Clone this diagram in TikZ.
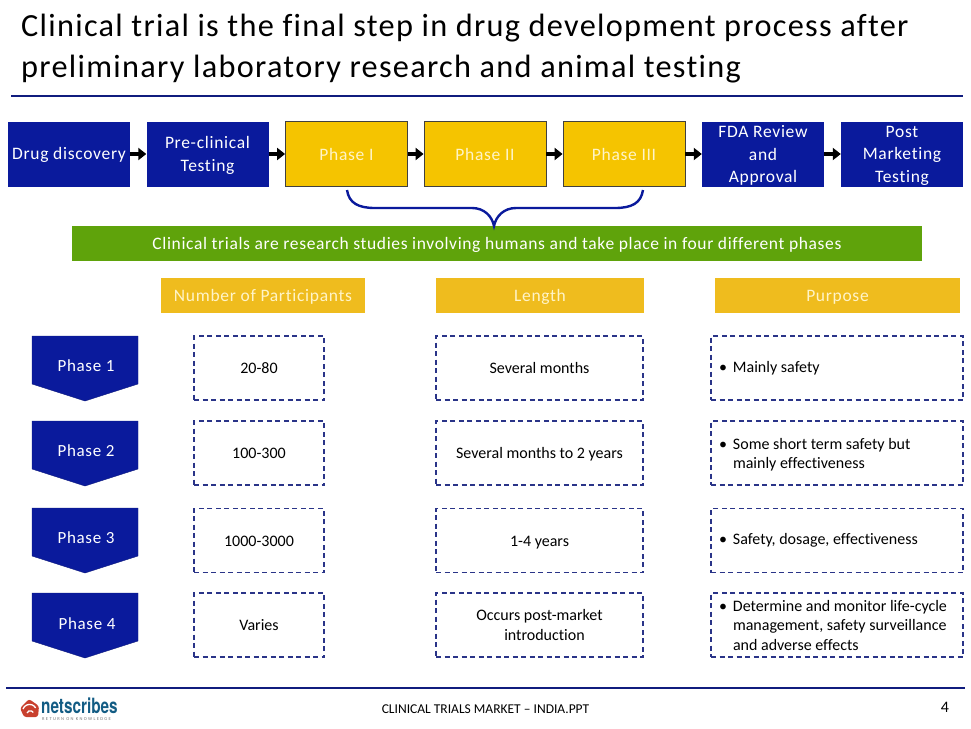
\documentclass[tikz,border=0pt]{standalone}
\usepackage{fontspec}
\setmainfont{Carlito}[Ligatures=NoCommon]
\newfontfamily\spacedfont[LetterSpace=4,Ligatures=NoCommon]{Carlito}
\newfontfamily\barfont[LetterSpace=3.6,Ligatures=NoCommon]{Carlito}
\newfontfamily\tagfont[LetterSpace=30]{Carlito}
\newfontfamily\logofont{TeX Gyre Heros}
\usetikzlibrary{arrows.meta}
\definecolor{navybox}{HTML}{0A1A9C}
\definecolor{navyline}{HTML}{101C7E}
\definecolor{dashnavy}{HTML}{2A3488}
\definecolor{goldbox}{HTML}{F5C400}
\definecolor{goldhead}{HTML}{EFBC1E}
\definecolor{palegold}{HTML}{FFF4C8}
\definecolor{greenbar}{HTML}{5FA30B}
\definecolor{logored}{HTML}{C8402E}
\definecolor{logoblue}{HTML}{135C84}
\tikzset{
  lowered/.style={execute at begin node={\rule{0pt}{#1}}},
  stagebox/.style={fill=navybox,text=white,text width=122,minimum height=65,inner sep=0,align=flush center,
    font=\fontsize{17.5}{22.5}\spacedfont},
  trialbox/.style={stagebox,fill=goldbox,draw=black!75,line width=0.8,text=palegold,lowered=13.5pt},
  headbox/.style={fill=goldhead,text=palegold,minimum height=35,inner sep=0,font=\fontsize{17.5}{20}\spacedfont,lowered=14.5pt},
  dashbox/.style={draw=dashnavy,line width=1.2,dash pattern=on 5 off 3.5,minimum height=64,inner sep=0,align=center,
    font=\fontsize{16}{19.5}\selectfont},
  pointbox/.style={dashbox,align=flush left,text width=236,inner xsep=8},
  phasetag/.style={text=white,inner sep=0,font=\fontsize{17}{20}\spacedfont},
  linkarrow/.style={line width=4,-{Triangle[length=8,width=12]}},
}
\newcommand{\pentagon}[1]{\fill[navybox,draw=navyline] (32,#1) -- (138,#1) -- (138,#1+48) -- (85,#1+65) -- (32,#1+48) -- cycle;}
\newcommand{\itm}{\textbullet\hspace{6pt}}
\newcommand{\hng}{\hspace*{14pt}}
\begin{document}
\begin{tikzpicture}[x=1pt, y=-1pt]
\useasboundingbox (0,0) rectangle (971,728);

\node[anchor=west,align=left,inner sep=0,font=\fontsize{32.3}{41}\spacedfont] (title) at (21,49)
  {Clinical trial is the final step in drug development process after\\preliminary laboratory research and animal testing};
\draw[navyline,line width=1.8] (11,96) -- (963,96);

\node[stagebox,lowered=14.5pt] (drug) at (69,154) {Drug discovery};
\node[stagebox,lowered=15pt] (preclin) at (207.5,154) {Pre-clinical\\Testing};
\node[trialbox] (phaseI) at (346.5,154) {Phase I};
\node[trialbox] (phaseII) at (485,154) {Phase II};
\node[trialbox] (phaseIII) at (624,154) {Phase III};
\node[stagebox,lowered=15pt] (fda) at (763,154) {FDA Review\\and\\Approval};
\node[stagebox,lowered=15pt] (post) at (902,154) {Post\\Marketing\\Testing};

\draw[linkarrow] (drug) -- (preclin);
\draw[linkarrow] (preclin) -- (phaseI);
\draw[linkarrow] (phaseI) -- (phaseII);
\draw[linkarrow] (phaseII) -- (phaseIII);
\draw[linkarrow] (phaseIII) -- (fda);
\draw[linkarrow] (fda) -- (post);

\node[fill=greenbar,text=white,minimum width=850,minimum height=35,inner sep=0,font=\fontsize{17.5}{20}\barfont,lowered=16pt] (clinical) at (497,243.5)
  {Clinical trials are research studies involving humans and take place in four different phases};

\coordinate (braceleft) at (347,190);
\coordinate (bracetip) at (494,226);
\coordinate (braceright) at (643,190);
\draw[navybox,line width=2.4] (braceleft) .. controls (349,203) and (358,208) .. (375,208) -- (472,208)
  .. controls (484,208) and (492,216) .. (bracetip) .. controls (496,216) and (504,208) .. (516,208)
  -- (615,208) .. controls (632,208) and (641,203) .. (braceright);

\node[headbox,minimum width=204] (number) at (263,295.5) {Number of Participants};
\node[headbox,minimum width=208] (length) at (540,295.5) {Length};
\node[headbox,minimum width=245] (purpose) at (837.5,295.5) {Purpose};

\pentagon{336}
\pentagon{421}
\pentagon{508}
\pentagon{593}
\node[phasetag] (phase1) at (86,366) {Phase 1};
\node[phasetag] (phase2) at (86,451) {Phase 2};
\node[phasetag] (phase3) at (86,538) {Phase 3};
\node[phasetag] (phase4) at (87,624) {Phase 4};

\node[dashbox,minimum width=130] (count1) at (259,368) {20-80};
\node[dashbox,minimum width=130] (count2) at (259,453) {100-300};
\node[dashbox,minimum width=130,lowered=13pt] (count3) at (259,540.5) {1000-3000};
\node[dashbox,minimum width=130] (count4) at (259,625) {Varies};

\node[dashbox,minimum width=207] (time1) at (539.5,368) {Several months};
\node[dashbox,minimum width=207,lowered=13.5pt] (time2) at (539.5,453) {Several months to 2 years};
\node[dashbox,minimum width=207,lowered=15.5pt] (time3) at (539.5,540.5) {1-4 years};
\node[dashbox,minimum width=207] (time4) at (539.5,625) {Occurs post-market\\\hspace*{10pt}introduction};

\node[pointbox] (goal1) at (837,368) {\itm Mainly safety};
\node[pointbox,lowered=15pt] (goal2) at (837,453) {\itm Some short term safety but\\\hng mainly effectiveness};
\node[pointbox] (goal3) at (837,540.5) {\itm Safety, dosage, effectiveness};
\node[pointbox] (goal4) at (837,625) {\itm Determine and monitor life-cycle\\\hng management, safety surveillance\\\hng and adverse effects};

\draw[navyline,line width=2.6] (6,688) -- (965,688);

\fill[logored,rounded corners=2.5] (29,699) -- (39,706) -- (38,717) -- (24,717) -- (20,708) -- cycle;
\draw[white,line width=1.3] (23,709) arc (200:330:7);
\draw[white,line width=1.3] (27,713) arc (200:330:3.5);
\node[anchor=west,inner sep=0,text=logoblue,font=\fontsize{21}{21}\logofont\bfseries,xscale=0.73] (logo) at (41,706) {netscribes};
\node[anchor=west,inner sep=0,text=black!55,font=\fontsize{4.5}{5}\tagfont] (tagline) at (42,719) {RETURN ON KNOWLEDGE};
\node[inner sep=0,font=\fontsize{13.5}{15}\selectfont] (footer) at (485.5,709) {CLINICAL TRIALS MARKET -- INDIA.PPT};
\node[inner sep=0,font=\fontsize{16}{18}\selectfont] (page) at (945,707) {4};

\end{tikzpicture}
\end{document}
